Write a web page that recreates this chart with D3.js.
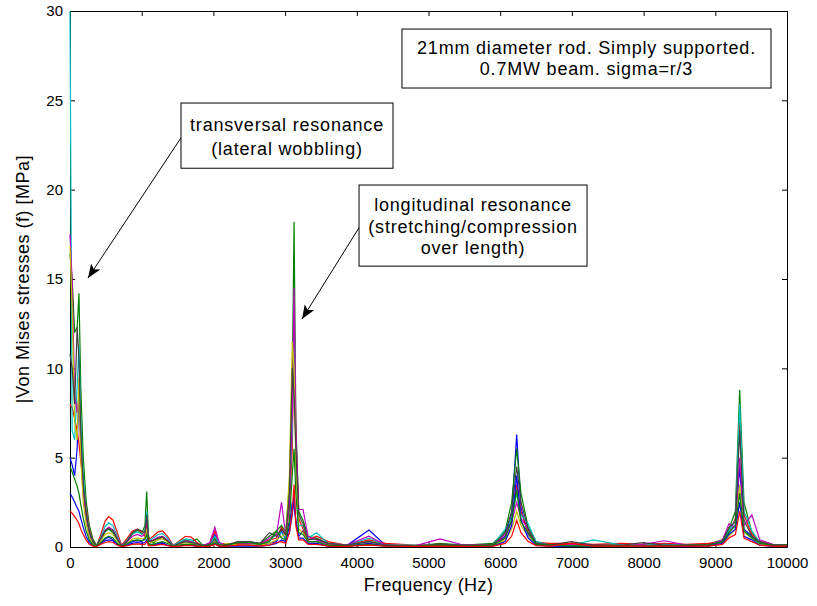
<!DOCTYPE html>
<html>
<head>
<meta charset="utf-8">
<script src="https://cdn.jsdelivr.net/npm/d3@7"></script>
<style>
  body { margin: 0; background: #fff; }
  svg { display: block; font-family: 'Liberation Sans', Arial, sans-serif; }
  .tick text { font-size: 15px; fill: #000; }
  .note text { font-size: 18px; letter-spacing: 0.8px; }
</style>
</head>
<body>
<div id="chart"></div>
<script>
// frequency grid (Hz) shared by all traces
const freqHz = [
  0, 30, 65, 100, 125, 150, 185, 225, 270, 320,
  370, 430, 490, 540, 600, 660, 720, 800, 870, 940,
  1000, 1045, 1070, 1095, 1160, 1230, 1290, 1360, 1440, 1530,
  1610, 1690, 1770, 1850, 1950, 2020, 2080, 2200, 2350, 2500,
  2650, 2780, 2880, 2950, 3010, 3060, 3100, 3125, 3150, 3190,
  3250, 3320, 3440, 3600, 3850, 4170, 4400, 4800, 5160, 5500,
  5900, 6070, 6160, 6230, 6290, 6390, 6500, 6700, 6990, 7300,
  7700, 7990, 8290, 8600, 8900, 9100, 9190, 9280, 9340, 9400,
  9510, 9620, 9800, 10000
];

// |Von Mises stress| spectra, MPa
const trace1 = [
  5.0, 4.6, 4.0, 5.5, 9.0, 6.0, 3.2, 1.8, 0.8, 0.3,
  0.05, 0.2, 0.45, 0.55, 0.4, 0.15, 0.02, 0.15, 0.3, 0.35,
  0.3, 0.5, 0.9, 0.2, 0.1, 0.2, 0.25, 0.1, 0.02, 0.1,
  0.15, 0.1, 0.05, 0.1, 0.15, 0.7, 0.1, 0.08, 0.1, 0.12,
  0.1, 0.2, 0.3, 0.9, 0.4, 0.8, 1.8, 3.0, 1.4, 0.6,
  0.9, 0.3, 0.3, 0.1, 0.05, 0.95, 0.1, 0.05, 0.1, 0.05,
  0.1, 0.6, 1.8, 6.3, 2.2, 0.7, 0.25, 0.1, 0.05, 0.05,
  0.05, 0.05, 0.1, 0.05, 0.1, 0.3, 0.9, 1.2, 4.5, 1.0,
  0.6, 0.2, 0.1, 0.1
];
const trace2 = [
  16.4, 15.0, 12.0, 12.3, 14.2, 9.0, 5.0, 2.6, 1.2, 0.45,
  0.1, 0.4, 0.85, 1.0, 0.8, 0.35, 0.05, 0.35, 0.7, 0.95,
  0.75, 1.2, 3.1, 0.6, 0.2, 0.45, 0.55, 0.3, 0.05, 0.25,
  0.4, 0.3, 0.45, 0.1, 0.2, 0.5, 0.15, 0.1, 0.3, 0.3,
  0.2, 0.6, 0.9, 1.2, 0.8, 3.5, 9.0, 18.2, 7.0, 2.0,
  1.5, 0.6, 0.5, 0.2, 0.1, 0.3, 0.15, 0.05, 0.2, 0.1,
  0.2, 0.9, 2.5, 5.5, 3.0, 1.1, 0.3, 0.15, 0.1, 0.1,
  0.1, 0.1, 0.1, 0.1, 0.15, 0.4, 1.0, 2.0, 8.8, 2.5,
  0.8, 0.3, 0.15, 0.1
];
const trace3 = [
  8.0, 7.8, 7.2, 6.5, 5.8, 4.8, 3.6, 2.2, 1.0, 0.35,
  0.05, 0.7, 1.45, 1.7, 1.5, 0.8, 0.1, 0.5, 0.9, 1.0,
  0.85, 0.6, 1.4, 0.4, 0.6, 0.85, 0.9, 0.6, 0.1, 0.35,
  0.6, 0.55, 0.25, 0.05, 0.2, 0.9, 0.2, 0.15, 0.2, 0.2,
  0.15, 0.4, 0.5, 1.1, 0.6, 2.2, 5.5, 12.5, 6.0, 1.6,
  1.0, 0.4, 0.6, 0.3, 0.1, 0.4, 0.2, 0.1, 0.15, 0.1,
  0.15, 0.5, 1.5, 3.5, 2.0, 0.8, 0.25, 0.2, 0.2, 0.15,
  0.2, 0.15, 0.2, 0.15, 0.2, 0.3, 0.8, 1.6, 7.0, 1.8,
  0.7, 0.3, 0.1, 0.1
];
const trace4 = [
  30.0, 6.5, 6.0, 9.0, 11.3, 7.0, 4.0, 2.0, 0.9, 0.3,
  0.08, 0.55, 1.15, 1.35, 1.2, 0.6, 0.05, 0.4, 0.75, 0.85,
  0.7, 0.9, 2.0, 0.35, 0.5, 0.7, 0.75, 0.5, 0.08, 0.3,
  0.45, 0.4, 0.15, 0.05, 0.15, 0.6, 0.2, 0.1, 0.15, 0.15,
  0.1, 0.35, 0.7, 0.8, 0.5, 2.8, 6.5, 13.5, 5.0, 1.2,
  1.2, 0.5, 0.8, 0.2, 0.1, 0.5, 0.1, 0.1, 0.1, 0.1,
  0.1, 1.0, 1.6, 3.0, 1.8, 1.3, 0.3, 0.1, 0.1, 0.4,
  0.1, 0.1, 0.15, 0.1, 0.1, 0.3, 0.9, 1.5, 8.0, 2.0,
  0.9, 0.25, 0.1, 0.1
];
const trace5 = [
  17.5, 14.9, 8.5, 7.5, 8.5, 5.5, 3.0, 1.6, 0.7, 0.25,
  0.05, 0.45, 0.95, 1.1, 0.95, 0.5, 0.05, 0.3, 0.6, 0.7,
  0.6, 0.7, 1.6, 0.3, 0.4, 0.55, 0.6, 0.4, 0.05, 0.2,
  0.35, 0.3, 0.1, 0.05, 0.25, 1.1, 0.25, 0.1, 0.15, 0.2,
  0.15, 0.5, 0.7, 2.5, 0.6, 2.5, 7.5, 14.5, 6.5, 2.1,
  2.1, 0.6, 0.4, 0.15, 0.1, 0.6, 0.1, 0.05, 0.45, 0.1,
  0.1, 0.7, 1.4, 2.5, 1.6, 1.0, 0.2, 0.1, 0.15, 0.1,
  0.05, 0.15, 0.35, 0.1, 0.1, 0.4, 1.3, 1.1, 5.0, 1.2,
  1.8, 0.4, 0.15, 0.1
];
const trace6 = [
  16.8, 13.4, 7.0, 6.0, 9.5, 5.0, 2.5, 1.3, 0.55, 0.2,
  0.05, 0.35, 0.7, 0.8, 0.7, 0.35, 0.03, 0.2, 0.45, 0.5,
  0.45, 0.5, 1.0, 0.2, 0.3, 0.4, 0.45, 0.3, 0.03, 0.15,
  0.25, 0.2, 0.08, 0.03, 0.1, 0.3, 0.1, 0.2, 0.1, 0.1,
  0.1, 0.2, 0.4, 0.6, 0.7, 4.0, 11.5, 10.0, 4.5, 1.0,
  0.8, 0.3, 0.3, 0.1, 0.05, 0.2, 0.05, 0.05, 0.1, 0.05,
  0.05, 0.4, 1.0, 2.0, 1.2, 0.6, 0.15, 0.05, 0.05, 0.05,
  0.05, 0.05, 0.05, 0.05, 0.05, 0.2, 0.6, 1.0, 3.5, 0.8,
  0.5, 0.2, 0.05, 0.05
];
const trace7 = [
  10.8, 10.0, 8.0, 12.3, 10.5, 6.5, 3.5, 1.9, 0.85, 0.3,
  0.05, 0.5, 0.9, 1.05, 0.9, 0.45, 0.05, 0.35, 0.8, 1.0,
  0.9, 0.8, 1.8, 0.3, 0.35, 0.5, 0.55, 0.35, 0.05, 0.2,
  0.3, 0.25, 0.2, 0.05, 0.15, 0.4, 0.1, 0.15, 0.3, 0.3,
  0.2, 0.8, 0.6, 1.0, 0.7, 3.0, 10.0, 8.5, 5.5, 1.8,
  1.3, 0.4, 0.45, 0.2, 0.1, 0.3, 0.1, 0.05, 0.15, 0.1,
  0.1, 0.8, 2.0, 4.5, 2.5, 1.0, 0.2, 0.1, 0.3, 0.1,
  0.1, 0.25, 0.1, 0.1, 0.1, 0.3, 1.1, 1.4, 6.5, 1.5,
  0.6, 0.3, 0.1, 0.1
];
const trace8 = [
  3.0, 2.8, 2.5, 2.2, 2.0, 1.6, 1.1, 0.6, 0.25, 0.08,
  0.02, 0.2, 0.35, 0.4, 0.35, 0.15, 0.02, 0.1, 0.2, 0.25,
  0.2, 0.25, 0.4, 0.1, 0.1, 0.15, 0.2, 0.1, 0.02, 0.08,
  0.1, 0.1, 0.05, 0.02, 0.05, 0.2, 0.05, 0.05, 0.05, 0.05,
  0.05, 0.1, 0.2, 0.4, 0.3, 1.2, 2.5, 2.2, 1.5, 0.5,
  0.5, 0.2, 0.2, 0.05, 0.03, 0.2, 0.05, 0.03, 0.05, 0.03,
  0.05, 0.3, 1.2, 4.0, 1.5, 0.5, 0.1, 0.05, 0.03, 0.03,
  0.03, 0.03, 0.05, 0.03, 0.05, 0.2, 0.7, 1.0, 2.5, 0.6,
  0.4, 0.1, 0.05, 0.05
];
const trace9 = [
  4.5, 4.2, 3.8, 3.4, 3.0, 2.4, 1.6, 0.9, 0.4, 0.12,
  0.03, 0.25, 0.5, 0.6, 0.5, 0.2, 0.03, 0.2, 0.35, 0.4,
  0.35, 0.4, 0.7, 0.15, 0.15, 0.25, 0.3, 0.2, 0.03, 0.1,
  0.15, 0.15, 0.1, 0.03, 0.1, 0.25, 0.05, 0.1, 0.25, 0.25,
  0.15, 0.3, 0.9, 0.5, 0.4, 1.5, 4.0, 5.5, 3.0, 0.8,
  0.7, 0.3, 0.3, 0.1, 0.05, 0.15, 0.05, 0.05, 0.1, 0.05,
  0.1, 0.5, 1.5, 3.2, 1.4, 0.8, 0.15, 0.1, 0.05, 0.05,
  0.05, 0.05, 0.05, 0.1, 0.1, 0.3, 0.8, 1.2, 3.0, 0.9,
  0.5, 0.2, 0.1, 0.1
];
const trace10 = [
  2.0, 1.9, 1.7, 1.5, 1.3, 1.0, 0.7, 0.4, 0.15, 0.05,
  0.02, 0.15, 0.25, 0.3, 0.25, 0.1, 0.02, 0.08, 0.15, 0.18,
  0.15, 0.15, 0.3, 0.08, 0.08, 0.12, 0.15, 0.08, 0.02, 0.05,
  0.08, 0.08, 0.05, 0.02, 0.05, 0.15, 0.05, 0.05, 0.1, 0.1,
  0.05, 0.1, 0.25, 0.3, 0.2, 0.8, 2.0, 3.5, 1.2, 0.4,
  0.4, 0.15, 0.15, 0.05, 0.03, 0.1, 0.05, 0.03, 0.05, 0.03,
  0.05, 0.2, 0.6, 1.5, 0.8, 0.3, 0.08, 0.05, 0.2, 0.05,
  0.05, 0.05, 0.05, 0.05, 0.05, 0.15, 0.5, 0.7, 2.0, 0.5,
  0.3, 0.1, 0.05, 0.05
];

const traces = [trace1, trace2, trace3, trace4, trace5, trace6, trace7, trace8, trace9, trace10];

const xTicks = [0, 1000, 2000, 3000, 4000, 5000, 6000, 7000, 8000, 9000, 10000];
const yTicks = [0, 5, 10, 15, 20, 25, 30];

const titleLines = ["21mm diameter rod. Simply supported.", "0.7MW beam. sigma=r/3"];
const transLines = ["transversal resonance", "(lateral wobbling)"];
const longLines = ["longitudinal resonance", "(stretching/compression", "over length)"];

// old matlab color order
const colorOrder = ["#0000ff", "#008000", "#ff0000", "#00bfbf", "#bf00bf", "#bfbf00", "#404040"];

const W = 817, H = 606;
const margin = { top: 11, right: 30, bottom: 59, left: 70 };
const width = W - margin.left - margin.right;
const height = H - margin.top - margin.bottom;

const svg = d3.select("#chart").append("svg")
    .attr("width", W)
    .attr("height", H);

const g = svg.append("g")
    .attr("transform", `translate(${margin.left},${margin.top})`);

const x = d3.scaleLinear().domain([0, 10000]).range([0, width]);
const y = d3.scaleLinear().domain([0, 30]).range([height, 0]);

g.append("clipPath").attr("id", "clip")
  .append("rect").attr("x", -1).attr("y", -1).attr("width", width + 2).attr("height", height + 2);

// box with inward ticks on all four sides
g.append("g")
    .attr("transform", `translate(0,${height})`)
    .call(d3.axisBottom(x).tickValues(xTicks).tickFormat(d3.format("d"))
      .tickSizeInner(-5).tickSizeOuter(0).tickPadding(10));
g.append("g")
    .call(d3.axisLeft(y).tickValues(yTicks).tickFormat(d3.format("d"))
      .tickSizeInner(-5).tickSizeOuter(0).tickPadding(7));
g.append("g")
    .call(d3.axisTop(x).tickValues(xTicks).tickSizeInner(-5).tickSizeOuter(0).tickFormat(""));
g.append("g")
    .attr("transform", `translate(${width},0)`)
    .call(d3.axisRight(y).tickValues(yTicks).tickSizeInner(-5).tickSizeOuter(0).tickFormat(""));

g.selectAll(".domain").attr("stroke", "#000");
g.selectAll(".tick line").attr("stroke", "#000");

const line = d3.line()
    .x((d, i) => x(freqHz[i]))
    .y(d => y(d));

g.append("g")
    .attr("clip-path", "url(#clip)")
  .selectAll("path")
  .data(traces)
  .enter().append("path")
    .attr("d", line)
    .attr("fill", "none")
    .attr("stroke", (d, i) => colorOrder[i % colorOrder.length])
    .attr("stroke-width", 1.2);

// axis labels
svg.append("text")
    .attr("x", margin.left + width / 2)
    .attr("y", 591)
    .attr("text-anchor", "middle")
    .style("font-size", "18px")
    .style("letter-spacing", "0.4px")
    .text("Frequency (Hz)");

svg.append("text")
    .attr("transform", `translate(29,${margin.top + height / 2}) rotate(-90)`)
    .attr("text-anchor", "middle")
    .style("font-size", "18px")
    .style("letter-spacing", "0.5px")
    .text("|Von Mises stresses (f) [MPa]");

// arrow head like matlab's annotation arrow
svg.append("defs").append("marker")
    .attr("id", "head")
    .attr("viewBox", "0 -6 14 12")
    .attr("refX", 14).attr("refY", 0)
    .attr("markerWidth", 14).attr("markerHeight", 12)
    .attr("markerUnits", "userSpaceOnUse")
    .attr("orient", "auto")
  .append("path")
    .attr("d", "M0,-5.5L14,0L0,5.5L3.5,0Z")
    .attr("fill", "#000");

function arrow(from, to) {
  g.append("line")
      .attr("x1", x(from[0])).attr("y1", y(from[1]))
      .attr("x2", x(to[0])).attr("y2", y(to[1]))
      .attr("stroke", "#000")
      .attr("stroke-width", 1)
      .attr("marker-end", "url(#head)");
}

function textBox(f0, f1, v0, v1, lines, firstBaseline, lineStep) {
  const nb = g.append("g").attr("class", "note");
  nb.append("rect")
      .attr("x", x(f0)).attr("y", y(v0))
      .attr("width", x(f1) - x(f0)).attr("height", y(v1) - y(v0))
      .attr("fill", "#fff")
      .attr("stroke", "#000")
      .attr("stroke-width", 1);
  nb.selectAll("text")
    .data(lines)
    .enter().append("text")
      .attr("x", (x(f0) + x(f1)) / 2)
      .attr("y", (d, i) => y(v0) + firstBaseline + i * lineStep)
      .attr("text-anchor", "middle")
      .text(d => d);
}

arrow([1548, 22.9], [251, 15.05]);
arrow([4045, 17.96], [3236, 12.76]);

textBox(4630, 9777, 28.99, 25.69, titleLines, 25, 21);
textBox(1548, 4505, 24.85, 21.2, transLines, 28, 24);
textBox(4031, 7211, 20.26, 15.72, longLines, 26, 21.5);
</script>
</body>
</html>
